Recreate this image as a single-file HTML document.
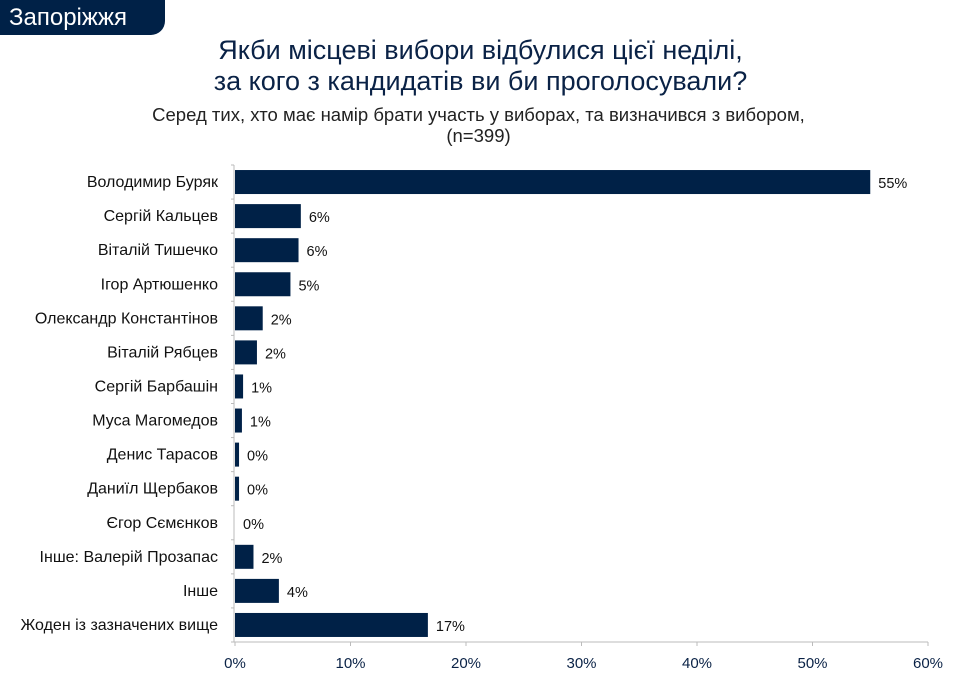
<!DOCTYPE html>
<html><head><meta charset="utf-8"><style>
body{margin:0;width:957px;height:683px;background:#fff;font-family:"Liberation Sans","DejaVu Sans",sans-serif;overflow:hidden;position:relative}
.tab{position:absolute;left:0;top:0;width:165px;height:35px;background:#002147;border-bottom-right-radius:14px;color:#fff;font-size:24px;line-height:35px;padding-left:9px;box-sizing:border-box}
.t{position:absolute;left:0;width:957px;text-align:center;color:#0a2246}
</style></head><body>
<div class="tab">Запоріжжя</div>
<div class="t" style="top:35px;font-size:27px;line-height:31px;left:2px">Якби місцеві вибори відбулися цієї неділі,<br>за кого з кандидатів ви би проголосували?</div>
<div class="t" style="top:104px;font-size:18.5px;line-height:21px;color:#222;left:0px">Серед тих, хто має намір брати участь у виборах, та визначився з вибором,<br>(n=399)</div>
<svg id="c" width="957" height="683" style="position:absolute;left:0;top:0"></svg>
<script>
const categories=["Володимир Буряк","Сергій Кальцев","Віталій Тишечко","Ігор Артюшенко","Олександр Константінов","Віталій Рябцев","Сергій Барбашін","Муса Магомедов","Денис Тарасов","Даниїл Щербаков","Єгор Сємєнков","Інше: Валерій Прозапас","Інше","Жоден із зазначених вище"];
const values=[55,5.7,5.5,4.8,2.4,1.9,0.7,0.6,0.35,0.35,0,1.6,3.8,16.7];
const valueLabels=["55%","6%","6%","5%","2%","2%","1%","1%","0%","0%","0%","2%","4%","17%"];
const ticks=[0,10,20,30,40,50,60];
const x0=235,x1=928,yTop=165,yBot=642;
const xs=v=>x0+(x1-x0)*v/60;
const band=(yBot-yTop)/categories.length;
const ys=i=>yTop+band*i;
const svg=document.getElementById('c');const NS='http://www.w3.org/2000/svg';
function mk(t,a){const e=document.createElementNS(NS,t);for(const k in a)e.setAttribute(k,a[k]);svg.appendChild(e);return e;}
let ax=mk('line',{x1:x0-1,x2:x0-1,y1:yTop,y2:yBot,stroke:'#bbb'});

let bx=mk('line',{x1:x0-1,x2:x1,y1:yBot,y2:yBot,stroke:'#bbb'});

for(let i=0;i<=categories.length;i++){mk('line',{x1:x0-4,x2:x0-1,y1:ys(i),y2:ys(i),stroke:'#bbb'});}
ticks.forEach(t=>{mk('line',{x1:xs(t),x2:xs(t),y1:yBot,y2:yBot+4,stroke:'#bbb'});
const l=mk('text',{x:xs(t),y:yBot+26,'text-anchor':'middle','font-size':15,fill:'#0a2246'});l.textContent=t+'%';
});
categories.forEach((c,i)=>{const cy=ys(i)+band/2;
const l=mk('text',{x:218,y:cy+5,'text-anchor':'end','font-size':16,fill:'#111'});l.textContent=c;

const b=mk('rect',{x:x0,y:cy-12,width:Math.max(0,xs(values[i])-x0),height:24,fill:'#002147'});

const v=mk('text',{x:xs(values[i])+8,y:cy+6,'font-size':14.5,fill:'#111'});v.textContent=valueLabels[i];
});
</script>
</body></html>
